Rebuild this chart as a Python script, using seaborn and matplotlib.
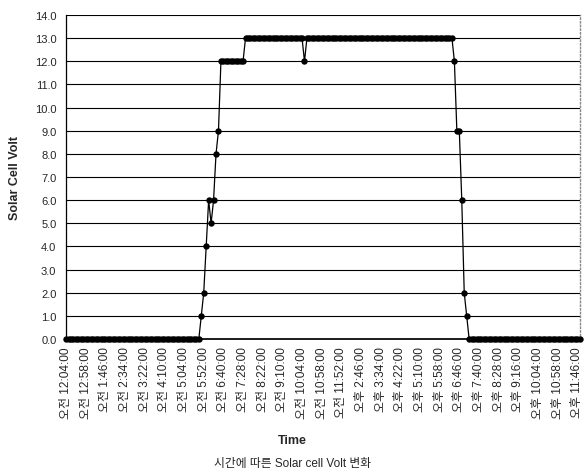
import matplotlib
matplotlib.use("Agg")
import matplotlib.pyplot as plt
import numpy as np
import pandas as pd
import seaborn as sns

# readings as runs: (volt level, number of consecutive samples)
VOLT_LEVELS = [0, 1, 2, 4, 6, 5, 6, 8, 9, 12, 13, 12, 13, 12, 9, 6, 2, 1, 0]
RUN_LENGTHS = [55, 1, 1, 1, 1, 1, 1, 1, 1, 10, 24, 1, 60, 1, 2, 1, 1, 1, 46]

TIME_LABELS = [
    "오전 12:04:00", "오전 12:58:00", "오전 1:46:00", "오전 2:34:00",
    "오전 3:22:00", "오전 4:10:00", "오전 5:04:00", "오전 5:52:00",
    "오전 6:40:00", "오전 7:28:00", "오전 8:22:00", "오전 9:10:00",
    "오전 10:04:00", "오전 10:58:00", "오전 11:52:00", "오후 2:46:00",
    "오후 3:34:00", "오후 4:22:00", "오후 5:10:00", "오후 5:58:00",
    "오후 6:46:00", "오후 7:40:00", "오후 8:28:00", "오후 9:16:00",
    "오후 10:04:00", "오후 10:58:00", "오후 11:46:00",
]
LABEL_EVERY = 8

FONTS = ["Liberation Sans", "Noto Sans CJK KR", "DejaVu Sans"]


def main() -> None:
    sns.set_theme(style="white")
    plt.rcParams["font.family"] = FONTS

    volt = np.repeat(VOLT_LEVELS, RUN_LENGTHS)
    df = pd.DataFrame({"sample": np.arange(len(volt)), "volt": volt})

    fig = plt.figure(figsize=(5.85, 4.77), dpi=100)
    ax = fig.add_axes([0.113, 0.287, 0.878, 0.6795])

    for v in range(1, 15):
        ax.axhline(v, color="black", lw=0.8, zorder=1)

    sns.lineplot(
        data=df, x="sample", y="volt", ax=ax, color="black", lw=0.9,
        marker="o", markersize=4.6, markeredgewidth=0, zorder=3, clip_on=False,
    )

    ax.set_xlim(0, len(volt) - 1)
    ax.set_ylim(0, 14)
    ax.set_yticks(np.arange(0, 15, 1))
    ax.set_yticklabels([f"{v:.1f}" for v in range(15)], fontsize=8)
    ticks = np.arange(len(TIME_LABELS)) * LABEL_EVERY
    ax.set_xticks(ticks)
    ax.set_xticklabels(TIME_LABELS, rotation=90, fontsize=8.6)
    ax.tick_params(axis="y", length=4, width=0.8, color="black", direction="out", pad=3)
    ax.tick_params(axis="x", length=0, pad=5)

    ax.spines["top"].set_visible(False)
    ax.spines["left"].set_color("black")
    ax.spines["left"].set_linewidth(0.9)
    ax.spines["bottom"].set_color("black")
    ax.spines["right"].set_color("#888888")
    ax.spines["right"].set_linestyle(":")
    ax.spines["right"].set_linewidth(1.0)

    ax.set_xlabel("")
    ax.set_ylabel("Solar Cell Volt", fontsize=9, fontweight="bold", labelpad=10)
    fig.text(0.5, 1 - 441 / 477, "Time", ha="center", va="center",
             fontsize=9, fontweight="bold")

    fig.text(0.5, 1 - 464 / 477, "시간에 따른 Solar cell Volt 변화", ha="center", va="center",
             fontsize=8.5)

    fig.savefig("out.png", dpi=100)
    plt.close(fig)


if __name__ == "__main__":
    main()
